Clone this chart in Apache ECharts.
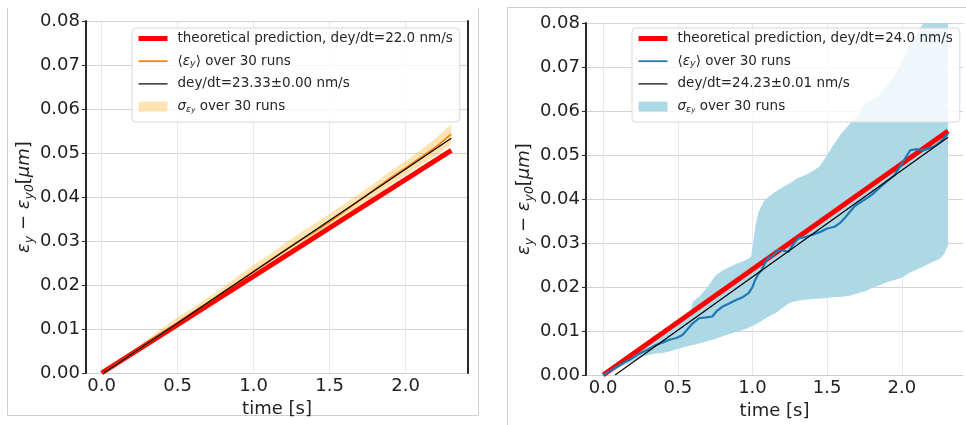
<!DOCTYPE html>
<html>
<head>
<meta charset="utf-8">
<script src="https://cdn.jsdelivr.net/npm/echarts@6/dist/echarts.min.js"></script>
<style>
  html, body { margin: 0; padding: 0; background: #fff; }
  #chart { width: 966px; height: 425px; }
</style>
</head>
<body>
<div id="chart"></div>
<script>
// Vertical emittance growth (eps_y - eps_y0, in um) versus time for two cases.

// ---------- left case ----------
const timeL = [0.013, 0.1, 0.2, 0.3, 0.4, 0.5, 0.6, 0.7, 0.8, 0.9, 1.0, 1.1, 1.2, 1.3, 1.4, 1.5, 1.6, 1.7, 1.8, 1.9, 2.0, 2.1, 2.2, 2.3];
const meanL = [0.0000, 0.0021, 0.0044, 0.0067, 0.0091, 0.0114, 0.0138, 0.0160, 0.0184, 0.0207, 0.0231, 0.0254, 0.0278, 0.0300, 0.0321, 0.0344, 0.0368, 0.0393, 0.0418, 0.0443, 0.0466, 0.0490, 0.0514, 0.0543];
const lowL  = [0.0000, 0.0017, 0.0038, 0.0059, 0.0081, 0.0102, 0.0126, 0.0149, 0.0172, 0.0194, 0.0216, 0.0240, 0.0263, 0.0284, 0.0303, 0.0326, 0.0350, 0.0377, 0.0403, 0.0427, 0.0450, 0.0473, 0.0494, 0.0520];
const highL = [0.0002, 0.0025, 0.0051, 0.0076, 0.0102, 0.0127, 0.0149, 0.0172, 0.0195, 0.0221, 0.0246, 0.0268, 0.0294, 0.0317, 0.0340, 0.0362, 0.0385, 0.0409, 0.0433, 0.0459, 0.0482, 0.0507, 0.0534, 0.0566];

// ---------- right case ----------
const timeR = [0.0, 0.05, 0.10, 0.133, 0.18, 0.244, 0.30, 0.354, 0.40, 0.443, 0.49, 0.531, 0.56, 0.598, 0.642, 0.69, 0.731, 0.76, 0.797, 0.84, 0.886, 0.93, 0.974, 1.00, 1.018, 1.04, 1.062, 1.085, 1.107, 1.129, 1.173, 1.205, 1.24, 1.27, 1.306, 1.35, 1.394, 1.43, 1.461, 1.50, 1.55, 1.585, 1.616, 1.65, 1.683, 1.72, 1.749, 1.80, 1.859, 1.90, 1.948, 2.00, 2.036, 2.058, 2.10, 2.147, 2.18, 2.214, 2.26, 2.31];
const meanR = [0.0000, 0.0010, 0.0020, 0.0027, 0.0035, 0.0049, 0.0058, 0.0068, 0.0074, 0.0080, 0.0084, 0.0091, 0.0102, 0.0117, 0.0129, 0.0131, 0.0133, 0.0145, 0.0155, 0.0162, 0.0170, 0.0176, 0.0186, 0.0200, 0.0216, 0.0230, 0.0239, 0.0255, 0.0267, 0.0268, 0.0284, 0.0283, 0.0280, 0.0295, 0.0311, 0.0313, 0.0318, 0.0322, 0.0326, 0.0333, 0.0337, 0.0345, 0.0356, 0.0370, 0.0383, 0.0392, 0.0398, 0.0410, 0.0428, 0.0440, 0.0453, 0.0480, 0.0500, 0.0511, 0.0513, 0.0511, 0.0515, 0.0519, 0.0530, 0.0549];
const bandTimeR = [0.0, 0.05, 0.10, 0.15, 0.20, 0.25, 0.30, 0.35, 0.40, 0.45, 0.50, 0.55, 0.585, 0.60, 0.65, 0.70, 0.75, 0.80, 0.85, 0.90, 0.95, 0.99, 1.00, 1.02, 1.04, 1.06, 1.08, 1.10, 1.15, 1.20, 1.25, 1.30, 1.35, 1.40, 1.45, 1.50, 1.55, 1.60, 1.65, 1.70, 1.75, 1.80, 1.85, 1.90, 1.95, 2.00, 2.05, 2.10, 2.15, 2.20, 2.25, 2.28, 2.31];
const lowR  = [0.0000, 0.0008, 0.0016, 0.0024, 0.0032, 0.0040, 0.0045, 0.0049, 0.0050, 0.0054, 0.0059, 0.0064, 0.0067, 0.0068, 0.0072, 0.0077, 0.0082, 0.0088, 0.0094, 0.0099, 0.0104, 0.0110, 0.0112, 0.0115, 0.0119, 0.0123, 0.0127, 0.0131, 0.0140, 0.0152, 0.0164, 0.0169, 0.0171, 0.0173, 0.0174, 0.0175, 0.0177, 0.0178, 0.0180, 0.0185, 0.0190, 0.0198, 0.0204, 0.0211, 0.0216, 0.0221, 0.0232, 0.0240, 0.0247, 0.0256, 0.0263, 0.0273, 0.0295];
const highR = [0.0002, 0.0014, 0.0026, 0.0038, 0.0050, 0.0062, 0.0074, 0.0086, 0.0098, 0.0110, 0.0122, 0.0134, 0.0142, 0.0166, 0.0180, 0.0200, 0.0225, 0.0238, 0.0246, 0.0254, 0.0260, 0.0268, 0.0290, 0.0340, 0.0370, 0.0384, 0.0396, 0.0403, 0.0416, 0.0426, 0.0436, 0.0447, 0.0454, 0.0463, 0.0474, 0.0500, 0.0527, 0.0551, 0.0570, 0.0588, 0.0617, 0.0625, 0.0637, 0.0660, 0.0679, 0.0711, 0.0750, 0.0776, 0.0801, 0.0822, 0.0840, 0.0850, 0.0860];

// ---------- rates quoted in the legends (nm/s) ----------
const theoryRate = [22.0, 24.0];
const fitRate    = [23.33, 24.23];
const fitErr     = [0.00, 0.01];
const fitStart   = [0.013, 0.08];   // time where the fitted line crosses zero
const endTime    = [2.30, 2.31];
const runs       = [30, 30];

// ---------- tick labels ----------
const yTicks = [0.00, 0.01, 0.02, 0.03, 0.04, 0.05, 0.06, 0.07, 0.08];
const xTicks = [0.0, 0.5, 1.0, 1.5, 2.0];

const FONT = 'DejaVu Sans';
const SPINE = '#2a2a2a';
const pairs = (xs, ys) => xs.map((x, i) => [x, ys[i]]);

const legendLabels = {};
function panelSeries(idx, key, t, mean, bt, low, high, meanColor, bandColor, meanWidth) {
  const xi = idx * 2, yi = idx * 3;
  legendLabels['theory' + key] = 'theoretical prediction, dey/dt=' + theoryRate[idx].toFixed(1) + ' nm/s';
  legendLabels['mean' + key] = '⟨{m|ε}{s|y}⟩ over ' + runs[idx] + ' runs';
  legendLabels['fit' + key] = 'dey/dt=' + fitRate[idx].toFixed(2) + '±' + fitErr[idx].toFixed(2) + ' nm/s';
  legendLabels['band' + key] = '{m|σ}{s|ε}{ss|y} over ' + runs[idx] + ' runs';
  const common = { xAxisIndex: xi, yAxisIndex: yi, silent: true, animation: false };
  // band outline: upper edge forward, lower edge backward
  const outline = pairs(bt, high).concat(pairs(bt, low).reverse());
  return [
    Object.assign({}, common, {
      type: 'custom', name: 'band' + key, color: bandColor, itemStyle: { color: bandColor },
      clip: true, data: outline,
      renderItem: (params, api) => {
        if (params.dataIndex !== 0) return null;
        const pts = outline.map(p => api.coord(p));
        return { type: 'polygon', shape: { points: pts }, style: { fill: bandColor } };
      }
    }),
    Object.assign({}, common, {
      type: 'line', symbol: 'none', name: 'theory' + key, color: '#ff0000',
      data: [[0, 0], [endTime[idx], theoryRate[idx] / 1000 * endTime[idx]]],
      lineStyle: { width: 5, color: '#ff0000' }
    }),
    Object.assign({}, common, {
      type: 'line', symbol: 'none', name: 'mean' + key, color: meanColor, data: pairs(t, mean),
      lineStyle: { width: meanWidth, color: meanColor }
    }),
    Object.assign({}, common, {
      type: 'line', symbol: 'none', name: 'fit' + key, color: '#000000',
      data: [[fitStart[idx], 0], [endTime[idx], fitRate[idx] / 1000 * (endTime[idx] - fitStart[idx])]],
      lineStyle: { width: 1.2, color: '#000000' }
    })
  ];
}

const series = [].concat(
  panelSeries(0, 'L', timeL, meanL, timeL, lowL, highL, '#ff7f0e', 'rgba(255,165,0,0.3)', 1.8),
  panelSeries(1, 'R', timeR, meanR, bandTimeR, lowR, highR, '#1f77b4', '#add8e6', 2.2)
);

function xAxisMain(grid, min, max) {
  return {
    type: 'value', gridIndex: grid, min: min, max: max, position: 'bottom',
    axisLine: { show: true, onZero: false, lineStyle: { color: '#cfcfcf', width: 1 } },
    axisTick: { show: false },
    splitLine: { show: true, showMinLine: false, showMaxLine: false, lineStyle: { color: '#e8e8e8', width: 1 } },
    axisLabel: {
      fontFamily: FONT, fontSize: 18, color: '#222', margin: 4,
      formatter: v => { const hit = xTicks.find(x => Math.abs(x - v) < 1e-6); return hit === undefined ? '' : hit.toFixed(1); }
    },
    name: 'time [s]', nameLocation: 'middle', nameGap: 23,
    nameTextStyle: { fontFamily: FONT, fontSize: 18, color: '#222' }
  };
}
function xAxisTop(grid) {
  return {
    type: 'value', gridIndex: grid, min: 0, max: 1, position: 'top',
    axisLine: { show: true, onZero: false, lineStyle: { color: '#d6d6d6', width: 1 } },
    axisTick: { show: false }, axisLabel: { show: false }, splitLine: { show: false }
  };
}
const yName = '{m|ε}{s|y}{t| − }{m|ε}{s|y0}{t|[}{m|μm}{t|]}';
const yNameStyle = {
  fontFamily: FONT, fontSize: 18, color: '#222', lineHeight: 24,
  rich: {
    m: { fontFamily: FONT, fontStyle: 'italic', fontSize: 18, lineHeight: 24, color: '#222' },
    t: { fontFamily: FONT, fontSize: 18, lineHeight: 24, color: '#222' },
    s: { fontFamily: FONT, fontStyle: 'italic', fontSize: 12.5, lineHeight: 13, verticalAlign: 'bottom', color: '#222' }
  }
};
// value axis with labels, grid lines and title
function yAxisMain(grid) {
  return {
    type: 'value', gridIndex: grid, min: yTicks[0], max: yTicks[yTicks.length - 1], interval: 0.01, position: 'left',
    axisLine: { show: false, onZero: false },
    axisTick: { show: false },
    splitLine: { show: true, lineStyle: { color: '#d4d4d4', width: 1 } },
    axisLabel: { fontFamily: FONT, fontSize: 18, color: '#222', margin: 6, formatter: v => v.toFixed(2) },
    name: yName, nameLocation: 'middle', nameRotate: 90, nameGap: 50,
    nameTextStyle: yNameStyle
  };
}
// dark frame line with outward ticks (left or right side of the plot)
function ySpine(grid, side, ticks) {
  return {
    type: 'value', gridIndex: grid, min: yTicks[0], max: yTicks[yTicks.length - 1], interval: 0.01, position: side, z: 3,
    axisLine: { show: true, onZero: false, lineStyle: { color: SPINE, width: 2 } },
    axisTick: { show: ticks, length: 4, lineStyle: { color: SPINE, width: 1 } },
    axisLabel: { show: false }, splitLine: { show: false }
  };
}

function legendFor(key, left) {
  return {
    orient: 'vertical', left: left, top: 28, selectedMode: false, z: 6,
    itemWidth: 29, itemHeight: 10, itemGap: 7.7,
    padding: [3, 7, 8, 4],
    backgroundColor: 'rgba(255,255,255,0.8)', borderColor: '#d8d8d8', borderWidth: 1, borderRadius: 4,
    itemStyle: { opacity: 0 },
    data: [
      { name: 'theory' + key, lineStyle: { width: 5 } },
      { name: 'mean' + key, lineStyle: { width: 1.8 } },
      { name: 'fit' + key, lineStyle: { width: 1.2 } },
      { name: 'band' + key, icon: 'rect', itemStyle: { opacity: 1 } }
    ],
    formatter: name => '{g| }' + legendLabels[name],
    textStyle: {
      fontFamily: FONT, fontSize: 13.5, color: '#262626', lineHeight: 15,
      rich: {
        g: { width: 5, fontSize: 13.5, lineHeight: 15 },
        m: { fontFamily: FONT, fontStyle: 'italic', fontSize: 13.5, lineHeight: 15, color: '#262626' },
        s: { fontFamily: FONT, fontStyle: 'italic', fontSize: 9.5, lineHeight: 9, verticalAlign: 'bottom', color: '#262626' },
        ss: { fontFamily: FONT, fontStyle: 'italic', fontSize: 7, lineHeight: 5, verticalAlign: 'bottom', color: '#262626' }
      }
    }
  };
}

const chart = echarts.init(document.getElementById('chart'), null, { renderer: 'canvas' });
chart.setOption({
  animation: false,
  backgroundColor: '#ffffff',
  grid: [
    { left: 86, top: 21, width: 382, height: 352 },
    { left: 586, top: 23, width: 380, height: 352 }
  ],
  xAxis: [xAxisMain(0, -0.103, 2.41), xAxisTop(0), xAxisMain(1, -0.115, 2.41), xAxisTop(1)],
  yAxis: [
    yAxisMain(0), ySpine(0, 'left', true), ySpine(0, 'right', false),
    yAxisMain(1), ySpine(1, 'left', true)
  ],
  legend: [legendFor('L', 132), legendFor('R', 632)],
  series: series,
  graphic: [
    { type: 'polyline', silent: true, z: -1,
      shape: { points: [[7.5, 8], [7.5, 415.5], [478.5, 415.5], [478.5, 8]] },
      style: { stroke: '#cfcfcf', fill: null, lineWidth: 1 } },
    { type: 'polyline', silent: true, z: -1,
      shape: { points: [[507.5, 430], [507.5, 7.5], [970, 7.5]] },
      style: { stroke: '#cfcfcf', fill: null, lineWidth: 1 } }
  ]
});
</script>
</body>
</html>
